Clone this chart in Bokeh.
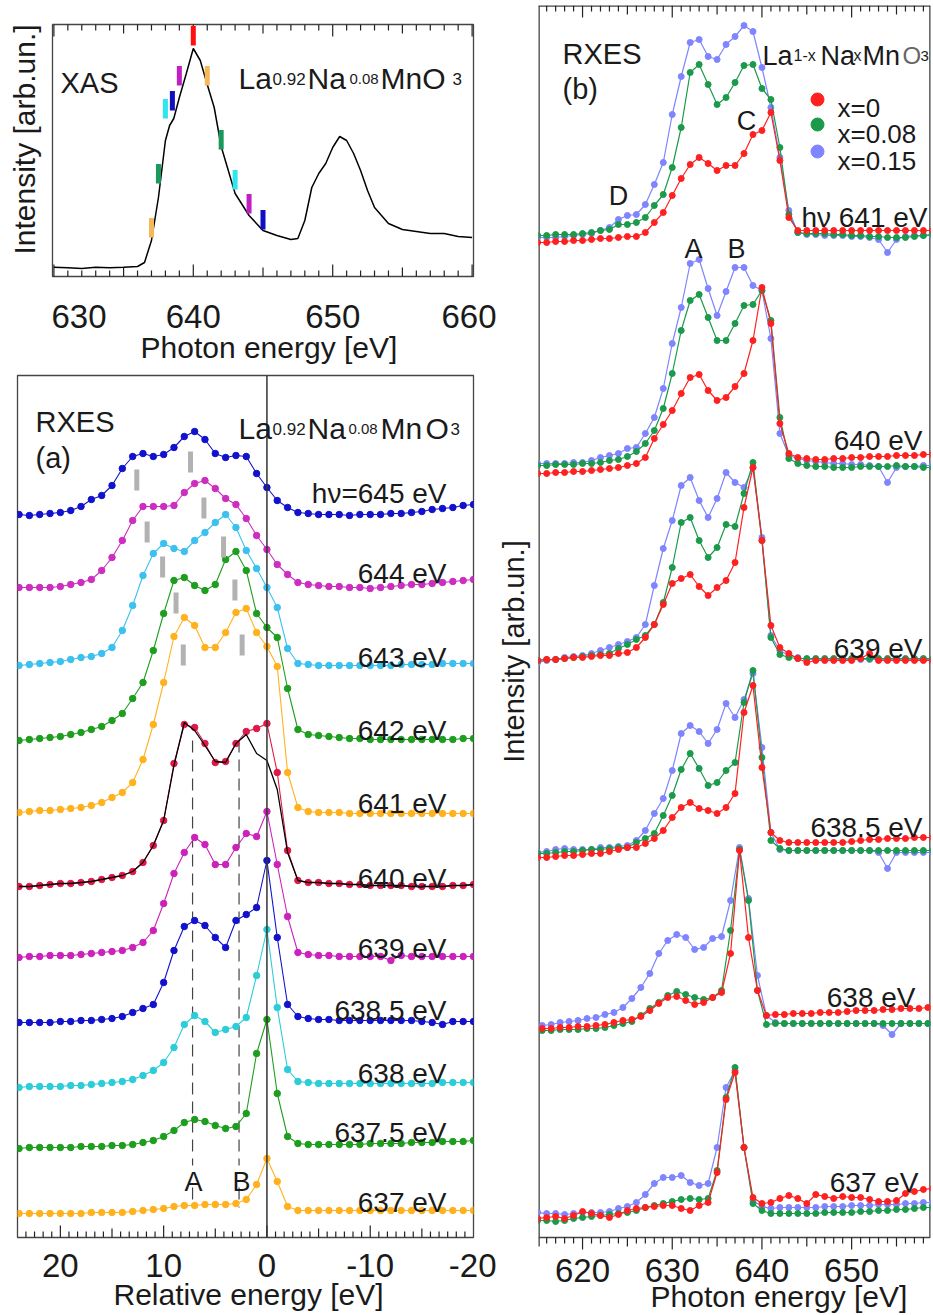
from bokeh.plotting import figure
from bokeh.models import Range1d, Label, FixedTicker, Span, Title
from bokeh.layouts import row, column
from bokeh.embed import file_html
from bokeh.resources import INLINE

FONT = "Liberation Sans"
TXT = "#1a1a1a"

# ======================= DATA =======================
# --- XAS (photon energy, intensity arb. units) ---
xas_E = [630, 631, 632, 633, 634, 635, 636, 636.5, 637, 637.5, 638, 638.3, 638.6, 639, 639.5, 640,
         640.5, 641, 641.5, 642, 643, 644, 645, 646, 647, 647.5, 648, 648.5, 649, 649.5, 650,
         650.5, 651, 651.5, 652, 652.5, 653, 654, 655, 656, 657, 658, 659, 660]
xas_I = [0.93, 0.87, 0.8, 0.93, 0.87, 0.93, 1.0, 1.4, 3.6, 7.9, 13.6, 15.1, 15.8, 17.9, 20.3, 22.8,
         21.6, 19.2, 16.9, 13.0, 8.3, 6.1, 4.6, 4.1, 3.7, 3.8, 5.6, 8.9, 10.3, 11.3, 12.9,
         14.0, 13.6, 12.3, 10.6, 8.6, 6.9, 5.3, 4.7, 4.5, 4.3, 4.3, 4.0, 3.9]
xas_mark_E = [637, 637.5, 638, 638.5, 639, 640, 641, 642, 643, 644, 645]
xas_mark_bottom = [3.9, 9.3, 15.8, 16.6, 19.1, 23.1, 19.1, 12.7, 8.7, 6.3, 4.7]
xas_mark_color = ["#F5B95A", "#1A9A5A", "#2EE6F0", "#1010C0", "#C020C0", "#FF1010",
                  "#F5B95A", "#1A9A5A", "#2EE6F0", "#C020C0", "#1010C0"]

# --- RXES (a): relative energy grid and spectra (intensity above baseline) ---
grid_a = [24, 23, 22, 21, 20, 19, 18, 17, 16, 15, 14, 13, 12, 11, 10, 9, 8, 7, 6, 5, 4, 3, 2, 1, 0,
          -1, -2, -3, -4, -5, -6, -7, -8, -9, -10, -11, -12, -13, -14, -15, -16, -17, -18, -19, -20]
hv_a = ["hν=645 eV", "644 eV", "643 eV", "642 eV", "641 eV", "640 eV", "639 eV",
        "638.5 eV", "638 eV", "637.5 eV", "637 eV"]
offset_a = [72.3, 65.0, 57.2, 49.7, 42.5, 35.0, 28.0, 21.5, 15.0, 8.9, 2.4]
color_a = ["#1212CC", "#CC2EC0", "#3CC0F0", "#1E9E1E", "#FFB21E", "#E0184A", "#CC22BB",
           "#1212CC", "#2CCDD8", "#1E9E1E", "#FFB21E"]
s645 = [0, -0.1, 0, 0.1, 0.2, 0.4, 0.8, 1.5, 1.9, 2.9, 4.6, 5.8, 6.1, 5.8, 6.0,
        6.7, 7.8, 8.3, 7.5, 6.1, 5.7, 5.9, 5.8, 4.1, 2.7, 1.4, 0.7, 0.2, 0.1, 0,
        0, 0, -0.1, 0, 0, 0, 0.1, 0.1, 0.2, 0.3, 0.5, 0.6, 0.7, 0.9, 1.0]
s644 = [0, 0, 0, 0, 0.1, 0.3, 0.5, 0.8, 1.7, 3.0, 4.7, 6.7, 8.1, 8.1, 8.1,
        8.2, 9.5, 10.4, 10.7, 9.9, 8.9, 8.3, 6.9, 5.2, 3.8, 2.3, 1.3, 0.5, 0.3, 0.2,
        0.1, 0.1, 0, 0, -0.1, 0, 0.1, 0.2, 0.3, 0.3, 0.4, 0.5, 0.6, 0.7, 0.8]
s643 = [0, 0.1, 0.2, 0.3, 0.4, 0.6, 0.8, 0.9, 1.2, 1.8, 3.5, 6.0, 9.0, 11.2, 12.2,
        11.7, 11.4, 12.5, 13.3, 14.3, 15.1, 13.8, 11.5, 9.7, 7.8, 5.8, 1.7, 0.2, 0.1, 0,
        0, 0, 0, 0, 0, 0, 0, 0.1, 0.1, 0.1, 0.1, 0.2, 0.2, 0.2, 0.2]
s642 = [0, 0.1, 0.2, 0.3, 0.4, 0.6, 0.8, 1.1, 1.4, 2.0, 2.7, 4.2, 5.8, 9.0, 12.7,
        16.0, 16.3, 15.5, 15.0, 15.6, 18.1, 18.9, 17.0, 12.7, 11.3, 10.3, 5.2, 1.1, 0.6, 0.5,
        0.4, 0.3, 0.2, 0.2, 0.1, 0.1, 0.1, 0.1, 0.1, 0.1, 0.1, 0.1, 0.1, 0.2, 0.2]
s641 = [0, 0.1, 0.2, 0.2, 0.3, 0.4, 0.5, 0.7, 1.0, 1.5, 2.0, 3.0, 5.3, 8.8, 13.0,
        17.6, 19.5, 18.7, 16.5, 16.5, 18.0, 20.0, 20.4, 18.0, 16.6, 14.6, 4.0, 0.5, 0.1, 0,
        0, 0, -0.1, -0.1, -0.1, -0.1, -0.1, -0.1, -0.1, -0.1, -0.1, -0.1, -0.1, -0.1, -0.1]
s640 = [0.1, 0.1, 0.2, 0.3, 0.4, 0.4, 0.5, 0.6, 0.8, 1.0, 1.2, 1.6, 2.5, 4.2, 6.7,
        12.4, 16.3, 16.0, 14.4, 12.5, 12.6, 14.4, 15.6, 15.9, 16.4, 11.5, 3.7, 0.7, 0.5, 0.5,
        0.4, 0.4, 0.3, 0.3, 0.2, 0.2, 0.2, 0.2, 0.1, 0.1, 0.1, 0.1, 0.2, 0.2, 0.3]
fit640 = [0.1, 0.1, 0.2, 0.3, 0.4, 0.4, 0.5, 0.6, 0.8, 1.0, 1.2, 1.6, 2.5, 4.2, 6.7,
          12.2, 16.5, 15.7, 14.2, 12.6, 12.5, 14.4, 15.3, 13.4, 12.7, 9.8, 3.5, 0.7, 0.5, 0.5,
          0.4, 0.4, 0.3, 0.3, 0.2, 0.2, 0.2, 0.2, 0.1, 0.1, 0.1, 0.1, 0.2, 0.2, 0.3]
s639 = [0, 0.1, 0.1, 0.2, 0.2, 0.2, 0.3, 0.4, 0.5, 0.6, 0.7, 1.0, 1.5, 2.7, 5.4,
        8.4, 10.5, 12.0, 11.3, 9.3, 9.3, 11.0, 12.4, 12.1, 14.6, 9.3, 4.1, 0.5, 0.3, 0.2,
        0.2, 0.1, 0.1, 0.1, 0.1, 0.1, -0.3, 0.2, 0.1, 0.1, 0.1, 0.1, 0.1, 0.1, 0.1]
s6385 = [0, 0, 0, 0, 0.1, 0.1, 0.2, 0.2, 0.3, 0.4, 0.6, 1.0, 1.4, 1.8, 4.0,
         7.2, 9.6, 10.2, 9.7, 8.5, 7.5, 10.2, 10.8, 11.5, 16.2, 8.5, 1.8, 0.6, 0.4, 0.3,
         0.3, 0.2, 0.2, 0.2, 0.2, 0.2, 0.2, 0.2, 0.2, 0.1, 0.0, -0.2, 0.1, 0.1, 0.1]
s638 = [0, 0.1, 0.1, 0.1, 0.1, 0.2, 0.2, 0.3, 0.4, 0.5, 0.6, 0.8, 1.2, 1.7, 2.5,
        4.0, 6.3, 7.2, 6.6, 5.5, 5.8, 6.1, 7.0, 11.2, 15.8, 8.0, 1.8, 0.6, 0.5, 0.4,
        0.4, 0.4, 0.4, 0.4, 0.4, 0.4, 0.4, 0.4, 0.4, 0.4, 0.4, 0.5, 0.5, 0.5, 0.5]
s6375 = [0, 0.1, 0.1, 0.1, 0.1, 0.1, 0.2, 0.2, 0.2, 0.3, 0.3, 0.4, 0.6, 0.8, 1.2,
         1.8, 2.6, 2.9, 2.7, 2.3, 2.0, 2.2, 3.5, 9.5, 12.9, 5.5, 1.2, 0.5, 0.4, 0.4,
         0.4, 0.4, 0.4, 0.4, 0.5, 0.5, 0.5, 0.5, 0.6, 0.6, 0.6, 0.7, 0.7, 0.7, 0.8]
s637 = [0, 0, 0, 0, 0, 0, 0, 0.1, 0.1, 0.1, 0.1, 0.2, 0.3, 0.4, 0.5,
        0.7, 0.8, 0.8, 0.9, 0.9, 0.9, 1.0, 1.4, 2.9, 5.5, 3.2, 0.7, 0.3, 0.3, 0.3,
        0.3, 0.3, 0.3, 0.3, 0.3, 0.3, 0.3, 0.3, 0.3, 0.3, 0.3, 0.3, 0.3, 0.3, 0.3]
spectra_a = [s645, s644, s643, s642, s641, s640, s639, s6385, s638, s6375, s637]
# grey peak markers in (a)
gbar_E = [12.6, 7.4, 11.6, 6.1, 10.1, 4.2, 8.8, 3.1, 8.1, 2.4]
gbar_y0 = [74.7, 76.5, 69.5, 71.9, 66.0, 68.0, 62.4, 63.7, 57.2, 58.2]
peak_AB_E = [7.2, 2.7]

# --- RXES (b): photon energy grid and spectra for x = 0, 0.08, 0.15 ---
grid_b = [615, 616, 617, 618, 619, 620, 621, 622, 623, 624, 625, 626, 627, 628, 629,
          630, 631, 632, 633, 634, 635, 636, 637, 638, 639, 640, 641, 642, 643, 644,
          645, 646, 647, 648, 649, 650, 651, 652, 653, 654, 655, 656, 657, 658, 659]
grid_b638 = [615.5, 616.5, 617.5, 618.5, 619.5, 620.5, 621.5, 622.5, 623.5, 624.5, 625.5,
             626.5, 627.5, 628.5, 629.5, 630.5, 631.5, 632.5, 633.5, 634.5, 635.5, 636.5,
             637.5, 638.5, 639.5, 640.5, 641.5, 642.5, 643.5, 644.5, 645.5, 646.5, 647.5,
             648.5, 649.5, 650.5, 651.5, 652.5, 653.5, 654.5, 655.5, 656.5, 657.5, 658.5]
hv_b = ["hν 641 eV", "640 eV", "639 eV", "638.5 eV", "638 eV", "637 eV"]
offset_b = [99.5, 76.4, 57.7, 38.0, 20.9, 1.9]
comp_b = ["x=0", "x=0.08", "x=0.15"]
color_b = ["#FF2020", "#1A9A4A", "#7F84FF"]

b641 = [
    [0, 0, 0.1, 0.1, 0.2, 0.2, 0.3, 0.4, 0.4, 0.5, 0.6, 0.6, 1.0, 2.0, 3.0,
     4.7, 6.4, 7.8, 8.5, 7.9, 7.2, 7.7, 7.7, 8.9, 10.8, 11.2, 13.0, 8.2, 2.5, 1.2,
     1.2, 1.2, 1.2, 1.2, 1.2, 1.2, 1.2, 1.2, 1.2, 1.2, 1.2, 1.2, 1.2, 1.2, 1.2],
    [0.7, 0.7, 0.8, 0.8, 0.8, 0.9, 1.0, 1.2, 1.3, 1.8, 1.8, 2.0, 2.5, 3.7, 4.8,
     7.5, 11.5, 17.0, 17.8, 15.8, 13.8, 14.5, 16.0, 17.7, 17.8, 15.4, 14.3, 9.5, 2.8, 1.0,
     0.9, 0.9, 0.9, 0.8, 0.8, 0.7, 0.7, 0.6, 0.6, 0.5, 0.5, 0.5, 0.6, 0.7, 0.8],
    [0.5, 0.5, 0.5, 0.6, 0.7, 0.8, 0.9, 1.2, 1.5, 2.3, 2.7, 2.8, 3.8, 5.8, 8.0,
     12.8, 16.6, 20.0, 20.3, 18.6, 18.3, 19.8, 20.6, 21.7, 21.1, 17.5, 13.5, 8.5, 3.2, 1.0,
     0.8, 0.8, 0.7, 0.7, 0.7, 0.6, 0.6, 0.5, 0.3, -1.0, 0.3, 0.6, 0.7, 0.7, 0.7]]
b640 = [
    [0, 0, 0.1, 0.1, 0.2, 0.2, 0.3, 0.4, 0.5, 0.6, 0.8, 1.0, 1.6, 3.5, 4.9,
     6.3, 8.0, 9.6, 9.9, 8.3, 7.3, 7.6, 8.7, 10.0, 13.3, 18.6, 15.0, 5.0, 2.0, 1.6,
     1.5, 1.4, 1.4, 1.5, 1.5, 1.6, 1.6, 1.7, 1.7, 1.7, 1.8, 1.8, 1.8, 1.9, 1.9],
    [0.8, 0.8, 0.9, 0.9, 0.9, 1.0, 1.0, 1.1, 1.3, 1.4, 1.7, 2.2, 3.0, 4.3, 6.5,
     10.0, 14.3, 17.3, 17.9, 15.6, 13.3, 13.3, 15.0, 16.8, 16.9, 18.3, 15.3, 5.6, 1.5, 1.0,
     0.8, 0.7, 0.7, 0.6, 0.6, 0.6, 0.7, 0.7, 0.7, 0.7, 0.8, 0.7, 0.7, 0.6, 0.6],
    [1.0, 1.0, 1.0, 1.0, 1.1, 1.1, 1.3, 1.6, 1.8, 2.0, 2.5, 2.6, 4.0, 5.6, 8.5,
     13.0, 16.6, 21.0, 21.4, 18.5, 15.8, 18.2, 20.6, 20.6, 18.8, 18.3, 13.5, 4.0, 1.8, 1.5,
     1.3, 1.2, 1.1, 1.0, 1.0, 0.9, 0.9, 0.8, 0.7, -0.9, 0.6, 0.7, 0.7, 0.8, 0.8]]
b639 = [
    [0, 0.1, 0.1, 0.2, 0.3, 0.3, 0.4, 0.5, 0.5, 0.7, 0.8, 1.3, 2.3, 3.6, 5.6,
     7.7, 8.2, 8.6, 7.4, 6.5, 7.3, 8.0, 9.8, 15.3, 19.3, 12.0, 3.5, 1.3, 0.7, 0.2,
     -0.2, 0, 0, 0, 0, 0, 0.2, 0.7, 0, 0, 0, 0, 0, 0, 0],
    [0, 0.1, 0.1, 0.2, 0.3, 0.4, 0.5, 0.6, 0.7, 1.2, 1.6, 2.1, 2.5, 3.6, 5.8,
     9.3, 13.8, 14.3, 12.0, 10.3, 11.3, 13.6, 13.4, 16.7, 19.8, 12.0, 2.3, 0.6, 0.3, 0.2,
     0.2, 0.2, 0.2, 0.2, 0.2, 0.2, 0.2, 0.2, 0.2, 0.2, 0.2, 0.2, 0.2, 0.2, 0.2],
    [-0.2, 0, 0.1, 0.3, 0.4, 0.5, 0.7, 1.0, 1.3, 1.6, 1.9, 2.3, 3.6, 7.5, 11.2,
     14.0, 17.5, 18.3, 16.0, 14.3, 16.2, 18.8, 17.8, 17.3, 19.3, 12.3, 2.5, 1.0, 0.5, 0.3,
     0.1, 0.1, 0.1, 0.1, 0.1, 0.1, 0.1, 0.1, 0.1, 0.1, 0.1, 0.1, 0.1, 0.1, 0.1]]
b6385 = [
    [0, 0, 0.1, 0.2, 0.2, 0.3, 0.4, 0.4, 0.6, 0.8, 1.0, 1.0, 1.4, 1.9, 2.7,
     4.0, 5.0, 5.5, 4.9, 4.7, 4.4, 5.0, 6.4, 14.5, 17.2, 9.0, 2.5, 1.7, 1.5, 1.5,
     1.5, 1.5, 1.5, 1.5, 1.5, 1.6, 1.7, 1.8, 1.8, 1.9, 1.9, 1.9, 2.0, 2.0, 2.0],
    [0.4, 0.4, 0.5, 0.6, 0.6, 0.7, 0.8, 0.8, 0.9, 1.0, 1.0, 1.5, 1.9, 2.4, 4.2,
     6.2, 8.8, 10.4, 8.9, 7.2, 7.5, 8.7, 9.5, 15.5, 18.7, 10.0, 1.7, 0.9, 0.7, 0.7,
     0.7, 0.7, 0.7, 0.7, 0.7, 0.7, 0.7, 0.7, 0.7, 0.7, 0.7, 0.7, 0.7, 0.7, 0.7],
    [0.5, 0.6, 0.8, 0.9, 0.8, 0.8, 0.8, 1.0, 1.0, 1.1, 1.2, 1.7, 2.7, 4.4, 5.9,
     8.7, 12.4, 13.2, 12.6, 11.4, 12.8, 15.4, 14.0, 15.8, 18.4, 11.0, 2.5, 0.8, 0.7, 0.7,
     0.7, 0.7, 0.7, 0.7, 0.7, 0.7, 0.7, 0.7, 0.5, -1.1, 0.5, 0.5, 0.5, 0.5, 0.5]]
b638 = [
    [0, 0, 0.1, 0.1, 0.2, 0.2, 0.3, 0.4, 0.6, 0.8, 0.9, 1.2, 1.8, 2.5, 3.1,
     3.2, 2.8, 2.4, 2.6, 3.1, 3.6, 7.5, 17.8, 9.1, 3.8, 1.3, 1.4, 1.4, 1.5, 1.5,
     1.5, 1.6, 1.6, 1.6, 1.7, 1.8, 1.8, 1.8, 1.9, 1.9, 2.0, 2.0, 2.0, 2.1],
    [-0.2, -0.2, -0.1, -0.1, -0.1, 0, 0, 0.1, 0.3, 0.5, 0.7, 1.3, 2.0, 2.6, 3.3,
     3.7, 3.4, 3.1, 2.9, 3.1, 3.8, 9.8, 17.9, 12.8, 3.8, 0.4, 0.5, 0.5, 0.5, 0.5,
     0.5, 0.5, 0.5, 0.5, 0.5, 0.5, 0.5, 0.5, 0.5, 0.5, 0.5, 0.5, 0.5, 0.5],
    [0.3, 0.4, 0.6, 0.7, 0.8, 1.0, 1.1, 1.4, 1.6, 2.1, 3.0, 4.1, 5.5, 7.5, 8.8,
     9.4, 9.1, 7.9, 8.1, 9.0, 9.2, 12.8, 18.1, 13.0, 5.3, 1.3, 0.6, 0.5, 0.5, 0.5,
     0.5, 0.5, 0.5, 0.5, 0.5, 0.5, 0.5, 0.5, 0.3, -0.6, 0.5, 0.5, 0.5, 0.5]]
b637 = [
    [0, 0.1, 0.2, 0, 0.3, 0.7, 0.5, 0.3, 0.1, 0.4, 0.8, 1.0, 1.1, 1.2, 1.3,
     1.3, 1.0, 0.8, 1.3, 1.6, 4.6, 11.9, 14.6, 7.1, 2.1, 1.5, 1.6, 2.0, 2.3, 2.0,
     1.5, 2.4, 2.2, 2.0, 2.2, 2.1, 2.1, 1.9, 1.7, 1.7, 1.8, 2.5, 2.7, 2.9, 3.0],
    [-0.2, -0.2, -0.3, -0.2, 0, 0.1, 0.2, 0.3, 0.4, 0.5, 0.6, 0.8, 1.1, 1.3, 1.5,
     1.7, 1.9, 2.0, 1.9, 2.0, 4.8, 12.1, 15.1, 7.1, 1.5, 0.8, 0.5, 0.5, 0.5, 0.5,
     0.5, 0.5, 0.6, 0.6, 0.6, 0.6, 0.7, 0.7, 0.8, 0.8, 0.9, 0.9, 1.0, 1.1, 1.1],
    [0.6, 0.5, 0.5, 0.4, 0.5, 0.6, 0.6, 0.6, 0.7, 1.0, 1.2, 1.6, 2.4, 3.5, 4.1,
     4.1, 4.3, 3.6, 3.3, 3.5, 7.1, 13.1, 14.8, 7.1, 1.8, 1.2, 1.0, 1.1, 1.1, 1.1,
     1.1, 1.1, 1.2, 1.2, 1.2, 1.3, 1.3, 1.3, 1.4, 1.4, 1.4, 1.5, 1.5, 1.6, 1.6]]
spectra_b = [b641, b640, b639, b6385, b638, b637]
grids_b = [grid_b, grid_b, grid_b, grid_b, grid_b638, grid_b]

for s in spectra_a + [fit640]:
    assert len(s) == len(grid_a), len(s)
for g, sets in zip(grids_b, spectra_b):
    for s in sets:
        assert len(s) == len(g), (len(s), len(g))
assert len(xas_E) == len(xas_I)

# ======================= HELPERS =======================
def lbl(p, x, y, text, size, align="left", baseline="alphabetic", color=TXT, angle=0):
    p.add_layout(Label(x=x, y=y, text=text, text_font=FONT, text_font_size=f"{size}px",
                       text_align=align, text_baseline=baseline, text_color=color,
                       angle=angle, angle_units="deg"))

def side_title(p, text, place, offset, standoff, size=30):
    p.add_layout(Title(text=text, align="left", offset=offset, standoff=standoff,
                       text_font=FONT, text_font_size=f"{size}px", text_font_style="normal",
                       text_color=TXT), place)

def style_fig(p, outline=True):
    p.grid.visible = False
    p.outline_line_color = "#444444" if outline else None
    p.outline_line_width = 1.3
    p.background_fill_color = "white"
    p.border_fill_color = "white"

def label_axis(ax, ticks, standoff, size=33, overrides=None):
    ax.ticker = FixedTicker(ticks=ticks)
    ax.axis_line_color = None
    ax.major_tick_line_color = None
    ax.minor_tick_line_color = None
    ax.major_label_text_font = FONT
    ax.major_label_text_font_size = f"{size}px"
    ax.major_label_text_color = TXT
    ax.major_label_standoff = standoff
    if overrides:
        ax.major_label_overrides = overrides

def tick_marks(p, major, medium, minor, y_base, sign, unit_px=10.0):
    """Draw tick marks as short vertical segments starting at y_base (sign +1 up, -1 down)."""
    for pos, length in ((major, 12), (medium, 9), (minor, 6)):
        if not pos:
            continue
        p.segment(x0=pos, y0=[y_base] * len(pos), x1=pos,
                  y1=[y_base + sign * length / unit_px] * len(pos),
                  line_color="#222222", line_width=1.2)

def side_strip(width, height, top, bottom):
    """Narrow blank figure whose frame holds a rotated axis label (pixel data units)."""
    s = figure(width=width, height=height, x_range=Range1d(0, width),
               y_range=Range1d(0, height - top - bottom), x_axis_location=None,
               y_axis_location=None, output_backend="svg", toolbar_location=None,
               min_border_left=0, min_border_right=0, min_border_top=top,
               min_border_bottom=bottom)
    style_fig(s, outline=False)
    return s

# ======================= XAS =======================
XL, XR = 629.9, 660.1
p1 = figure(width=445, height=366, x_range=Range1d(XL, XR), y_range=Range1d(0, 25.2),
            y_axis_location=None, output_backend="svg", toolbar_location=None,
            min_border_left=1, min_border_right=23, min_border_top=24, min_border_bottom=90)
style_fig(p1)
ax1x = lambda X: XL + (X - 52) * (XR - XL) / 421.0
ax1y = lambda Y: (276 - Y) / 10.0
xmaj = [630, 640, 650, 660]
xmed = [635, 645, 655]
xmin = [v for v in range(630, 661) if v not in xmaj + xmed]
label_axis(p1.xaxis[0], xmaj, 22)
tick_marks(p1, xmaj, xmed, xmin, 0, +1)
tick_marks(p1, xmaj, xmed, xmin, 25.2, -1)
side_title(p1, "Photon energy [eV]", "below", 88, -3)
p1.line(xas_E, xas_I, line_color="black", line_width=1.5)
p1.segment(x0=xas_mark_E, y0=xas_mark_bottom, x1=xas_mark_E,
           y1=[b + 1.95 for b in xas_mark_bottom], line_color=xas_mark_color, line_width=5)
lbl(p1, ax1x(60), ax1y(82), "XAS", 29)
for txt, X, sz in [("La", 238, 30), ("0.92", 272, 17), ("Na", 307, 30), ("0.08", 349, 15),
                   ("MnO", 380, 30), ("3", 452, 17)]:
    lbl(p1, ax1x(X), ax1y(78), txt, sz)

p1s = side_strip(51, 366, 24, 90)
lbl(p1s, 24, 276 - 139, "Intensity [arb.un.]", 30, align="center", baseline="middle", angle=90)

# ======================= RXES (a) =======================
AL, AR = 24.15, -20.0
p2 = figure(width=496, height=949, x_range=Range1d(AL, AR), y_range=Range1d(0, 86.2),
            y_axis_location=None, output_backend="svg", toolbar_location=None,
            min_border_left=17, min_border_right=23, min_border_top=9, min_border_bottom=78)
style_fig(p2)
a2x = lambda X: AL + (X - 17) * (AR - AL) / 456.0
a2y = lambda Y: (1237 - Y) / 10.0
amaj = [20, 10, 0, -10]
amed = [15, 5, -5, -15]
amin = [k * 10.0 / 12 for k in range(-23, 29) if k % 6 != 0]
label_axis(p2.xaxis[0], [20, 10, 0, -10, -20], 10, overrides={-10: "-10", -20: "-20"})
tick_marks(p2, amaj, amed, amin, 0, +1)
side_title(p2, "Relative energy [eV]", "below", 96, -8)

p2.add_layout(Span(location=0, dimension="height", line_color="#333333", line_width=1.5))
for e in peak_AB_E:
    p2.segment(x0=[e, e], y0=[a2y(740), a2y(1187)], x1=[e, e], y1=[a2y(1165), a2y(1207)],
               line_color="#444444", line_width=1.2, line_dash="12 7")

for vals, off, col in zip(spectra_a, offset_a, color_a):
    y = [off + v for v in vals]
    p2.line(grid_a, y, line_color=col, line_width=1.1)
    p2.scatter(grid_a, y, size=6.5, fill_color=col, line_color=col)
p2.line(grid_a, [offset_a[5] + v for v in fit640], line_color="black", line_width=1.3)
p2.segment(x0=gbar_E, y0=gbar_y0, x1=gbar_E, y1=[v + 2.1 for v in gbar_y0],
           line_color="#B2B2B2", line_width=5)

lbl(p2, a2x(35), a2y(421), "RXES", 29)
lbl(p2, a2x(35), a2y(457), "(a)", 29)
for txt, X, sz in [("La", 238, 30), ("0.92", 272, 17), ("Na", 307, 30), ("0.08", 348, 15),
                   ("Mn", 380, 30), ("O", 425, 30), ("3", 450, 17)]:
    lbl(p2, a2x(X), a2y(428), txt, sz)
label_base_a = [493, 573, 657, 730, 803, 878, 948, 1010, 1073, 1132, 1202]
for txt, Y in zip(hv_a, label_base_a):
    lbl(p2, a2x(446), a2y(Y), txt, 28, align="right")
lbl(p2, a2x(193), a2y(1181), "A", 27, align="center")
lbl(p2, a2x(241), a2y(1181), "B", 27, align="center")

# ======================= RXES (b) =======================
BL = 615.09
BR = BL + 392 / 8.97
BT = 123.2
p3 = figure(width=396, height=1315, x_range=Range1d(BL, BR), y_range=Range1d(-1.3, BT),
            y_axis_location=None, output_backend="svg", toolbar_location=None,
            min_border_left=1, min_border_right=3, min_border_top=5, min_border_bottom=65)
style_fig(p3, outline=False)
b3x = lambda X: BL + (X - 538) / 8.97
b3y = lambda Y: (1237 - Y) / 10.0
bmaj = [620, 630, 640, 650]
bmed = [625, 635, 645, 655]
bmin = [v for v in range(616, 659) if v not in bmaj + bmed]
label_axis(p3.xaxis[0], bmaj, 2)
# frame drawn by hand so the bottom ticks can point outwards
p3.segment(x0=[BL, BR, BL], y0=[-0.9, 0, BT], x1=[BL, BR, BR], y1=[BT, BT, BT],
           line_color="#444444", line_width=2.6)
p3.segment(x0=[BL], y0=[0], x1=[BR], y1=[0], line_color="#444444", line_width=1.3)
tick_marks(p3, bmaj, bmed, bmin, 0, -1)
tick_marks(p3, bmaj, bmed, bmin, BT, -1)
side_title(p3, "Photon energy [eV]", "below", 112, -14)

draw_order = [2, 1, 0]
for sets, off, g in zip(spectra_b, offset_b, grids_b):
    for k in draw_order:
        y = [off + v for v in sets[k]]
        p3.line(g, y, line_color=color_b[k], line_width=1.2)
        p3.scatter(g, y, size=6, fill_color=color_b[k], line_color=color_b[k])

lbl(p3, b3x(562), b3y(53), "RXES", 29)
lbl(p3, b3x(562), b3y(88), "(b)", 29)
for txt, X, sz, col in [("La", 762, 27, TXT), ("1-x", 793, 16, TXT), ("Na", 820, 27, TXT),
                        ("x", 853, 16, TXT), ("Mn", 862, 27, TXT), ("O", 902, 24, "#666666"),
                        ("3", 920, 15, TXT)]:
    lbl(p3, b3x(X), b3y(55), txt, sz, color=col)
leg_Y = [99, 124, 151]
leg_base = [107, 133, 160]
p3.scatter([b3x(817)] * 3, [b3y(v) for v in leg_Y], size=13, fill_color=color_b, line_color=color_b)
for txt, Y in zip(comp_b, leg_base):
    lbl(p3, b3x(837), b3y(Y), txt, 26)
label_pos_b = [(927, 217), (922, 440), (922, 648), (922, 827), (915, 997), (918, 1182)]
for txt, (X, Y) in zip(hv_b, label_pos_b):
    lbl(p3, b3x(X), b3y(Y), txt, 28, align="right")
for txt, X, Y in [("A", 693, 248), ("B", 736, 248), ("C", 746, 120), ("D", 618, 195)]:
    lbl(p3, b3x(X), b3y(Y), txt, 27, align="center")

p3s = side_strip(41, 1315, 5, 65)
lbl(p3s, 513 - 496, 1250 - 651, "Intensity [arb.un.]", 29, align="center", baseline="middle", angle=90)

layout = row(column(row(p1s, p1), p2), row(p3s, p3))
open("out.html", "w").write(file_html(layout, INLINE))
